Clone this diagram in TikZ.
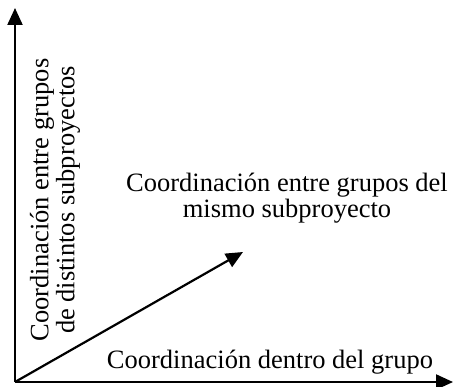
\documentclass[tikz,border=0pt]{standalone}
\usepackage{fontspec}
\setmainfont{Liberation Serif}
\usetikzlibrary{arrows.meta}
\begin{document}
\begin{tikzpicture}[x=1pt,y=-1pt,
  axis/.style={line width=2.2pt,-{Triangle[length=17pt,width=15pt]}},
  lbl/.style={font=\fontsize{26.5}{26}\selectfont,align=center,inner sep=0pt}]
\useasboundingbox (0,0) rectangle (454,387);
\coordinate (o) at (15,382);
\coordinate (ytip) at (15,8);
\coordinate (xtip) at (453,382);
\coordinate (dtip) at (243,252);
\draw[axis] (o) -- (ytip);
\draw[axis] (o) -- (xtip);
\draw[axis] (o) -- (dtip);
\node[lbl,rotate=90] (ylab) at (55,200) {Coordinación entre grupos\\de distintos subproyectos};
\node[lbl,anchor=base] (xlab) at (270,368) {Coordinación dentro del grupo};
\node[lbl] (dlab) at (287,198) {Coordinación entre grupos del\\mismo subproyecto};
\end{tikzpicture}
\end{document}
